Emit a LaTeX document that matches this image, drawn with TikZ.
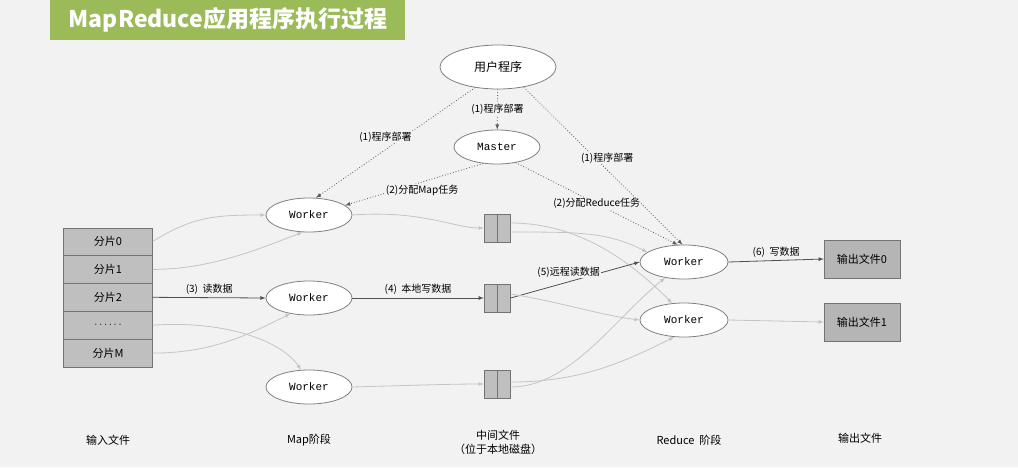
\documentclass[tikz,border=0pt]{standalone}
\usepackage{fontspec}
\setmainfont{Noto Sans CJK SC}
\newfontfamily\wfont{Liberation Mono}
\usetikzlibrary{positioning,shapes.geometric,arrows}
\definecolor{bg}{HTML}{F2F2F2}
\definecolor{banner}{HTML}{9BBB59}
\definecolor{boxgray}{HTML}{BFBFBF}
\definecolor{linelight}{HTML}{C4C4C4}
\definecolor{linedark}{HTML}{505050}
\tikzset{
  worker/.style={ellipse, draw=gray, line width=0.8pt, fill=white, minimum width=86pt, minimum height=34pt, inner sep=0pt, font=\wfont\fontsize{11}{13}\selectfont},
  split/.style={rectangle, draw=gray!90!black, fill=boxgray, minimum width=89pt, minimum height=27.5pt, inner sep=0pt, font=\fontsize{11}{13}\selectfont},
  cell/.style={rectangle, draw=gray!90!black, fill=boxgray, minimum width=13pt, minimum height=28pt, inner sep=0pt},
  outfile/.style={rectangle, draw=gray!90!black, fill=boxgray!95!black, minimum width=76pt, minimum height=38pt, inner sep=0pt, font=\fontsize{11}{13}\selectfont},
  step-label/.style={fill=bg, inner sep=1pt, font=\fontsize{10}{12}\selectfont},
  light/.style={->, >=latex, draw=linelight, thick},
  dark/.style={->, >=latex, draw=linedark, thick},
  deploy/.style={->, >=latex, draw=gray!70!black, dotted, thick},
  stage/.style={font=\fontsize{11}{14}\selectfont, align=center}
}
\begin{document}
\begin{tikzpicture}[x=1pt, y=-1pt]
\fill[bg] (0,0) rectangle (1018,467);
\useasboundingbox (0,0) rectangle (1018,467);
\fill[banner] (50,0) rectangle (405,40);
\node (title) at (228,20) [text=white, font=\bfseries\fontsize{23}{27}\selectfont] {MapReduce应用程序执行过程};

\node[ellipse, draw=gray, line width=0.8pt, fill=white, minimum width=116pt, minimum height=44pt, font=\fontsize{12}{14}\selectfont] (user) at (498,67) {用户程序};
\node[worker] (master) at (497,147) {Master};

\node[split] (S0) at (108,241.5) {分片0};
\node[split, below=0pt of S0] (S1) {分片1};
\node[split, below=0pt of S1] (S2) {分片2};
\node[split, below=0pt of S2] (S3) {\textbf{$\cdots\cdots$}};
\node[split, below=0pt of S3] (SM) {分片M};

\node[worker] (W1-map) at (309,215) {Worker};
\node[worker] (W2-map) at (309,298) {Worker};
\node[worker] (W3-map) at (309,387) {Worker};

\foreach \n/\y in {1/228,2/298,3/384}{
  \node[cell] (F\n a) at (490.5,\y) {};
  \node[cell, right=0pt of F\n a] (F\n b) {};
}

\node[worker, minimum width=88pt] (W1-red) at (684,262) {Worker};
\node[worker, minimum width=88pt] (W2-red) at (684,320) {Worker};

\node[outfile] (out0) at (862,259) {输出文件0};
\node[outfile] (out1) at (862,322) {输出文件1};

\node[stage] (in-label) at (108,440) {输入文件};
\node[stage] (map-label) at (309,440) {Map阶段};
\node[stage] (mid-label) at (498,442) {中间文件\\（位于本地磁盘）};
\node[stage] (red-label) at (689,440) {Reduce\ \ 阶段};
\node[stage] (out-label) at (860,438) {输出文件};

\draw[deploy] (user) -- (master) node[step-label, midway] {(1)程序部署};
\draw[deploy] (user.222) -- (W1-map.68) node[step-label, pos=0.45, xshift=-18pt] {(1)程序部署};
\draw[deploy] (user.-38) -- (W1-red.95) node[step-label, pos=0.45, xshift=12pt] {(1)程序部署};
\draw[deploy] (master.230) -- (W1-map.15) node[step-label, pos=0.5, xshift=8pt, yshift=-6pt] {(2)分配Map任务};
\draw[deploy] (master.-40) -- (W1-red.110) node[step-label, pos=0.5] {(2)分配Reduce任务};

\draw[light] (S0.east)..controls +(40,-25) and +(-50,0)..(W1-map.west);
\draw[light] (S1.east)..controls +(60,0) and +(-40,15)..(W1-map.250);
\draw[dark] (S2.east) -- (W2-map.west) node[step-label, midway, above=2pt] {(3)\ \ 读数据};
\draw[light] (S3.east)..controls +(70,-5) and +(-20,-30)..(W3-map.115);
\draw[light] (SM.east)..controls +(60,0) and +(-40,20)..(W2-map.220);

\draw[light] (W1-map.east)..controls +(70,-5) and +(-30,0)..(F1a.west);
\draw[dark] (W2-map.east) -- (F2a.west) node[step-label, midway, above=2pt] {(4)\ \ 本地写数据};
\draw[light] (W3-map.east)..controls +(70,-2) and +(-30,0)..(F3a.west);

\draw[light] ([yshift=-4pt]F1b.east)..controls +(70,0) and +(-40,-20)..(W1-red.165);
\draw[light] ([yshift=5pt]F1b.east)..controls +(70,0) and +(-40,-40)..(W2-red.125);
\draw[dark] (F2b.east) -- (W1-red.west) node[step-label, pos=0.45, above=3pt] {(5)远程读数据};
\draw[light] ([yshift=4pt]F2b.east)..controls +(50,8) and +(-40,-5)..(W2-red.west);
\draw[light] ([yshift=-3pt]F3b.east)..controls +(60,0) and +(-50,40)..(W1-red.220);
\draw[light] ([yshift=2pt]F3b.east)..controls +(70,0) and +(-50,25)..(W2-red.240);

\draw[dark] (W1-red.east) -- (out0.west) node[step-label, midway, above=2pt] {(6)\ \ 写数据};
\draw[light] (W2-red.east) -- (out1.west);
\end{tikzpicture}
\end{document}
